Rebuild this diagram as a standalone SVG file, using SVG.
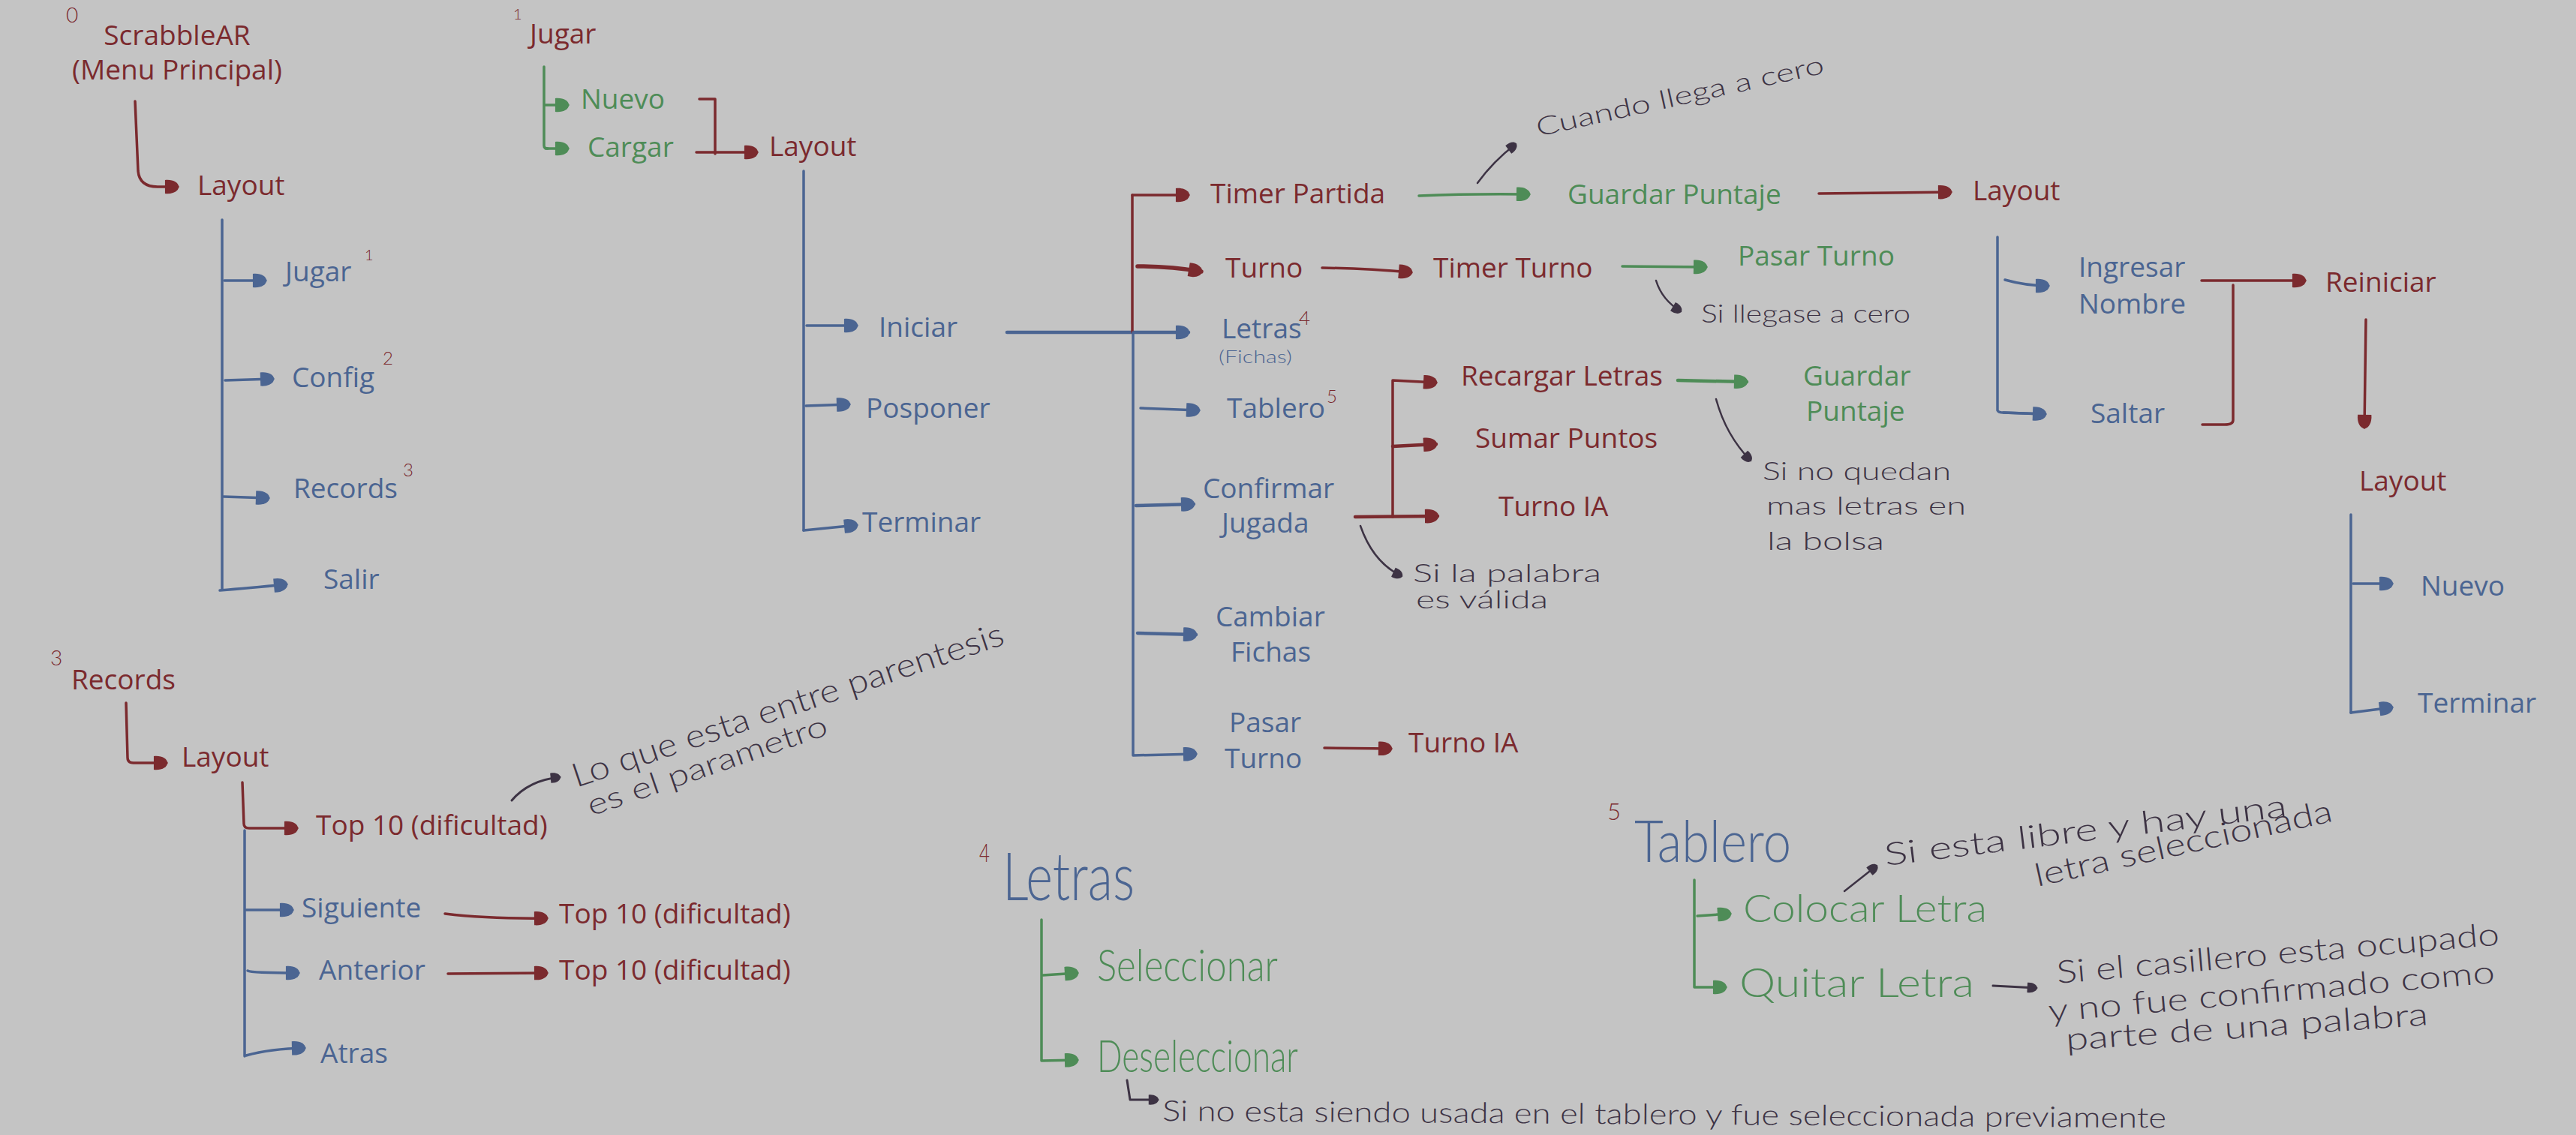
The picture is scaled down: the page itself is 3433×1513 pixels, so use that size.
<svg xmlns="http://www.w3.org/2000/svg" width="3433" height="1513" viewBox="0 0 3433 1513">
<style>
.t{font-family:"Open Sans","Noto Sans","Liberation Sans",sans-serif;font-size:37px}
.h{font-family:Lato,"Open Sans","Liberation Sans",sans-serif;font-weight:300}
.r{fill:#7b2a2e}.b{fill:#4b6592}.g{fill:#4e8c57}.d{fill:#3d3344}
.lr{fill:none;stroke:#7b2a2e;stroke-width:3.5;stroke-linecap:round;stroke-linejoin:round}
.lb{fill:none;stroke:#4b6592;stroke-width:3.5;stroke-linecap:round;stroke-linejoin:round}
.lg{fill:none;stroke:#4e8c57;stroke-width:3.5;stroke-linecap:round;stroke-linejoin:round}
.ld{fill:none;stroke:#3d3344;stroke-width:2.5;stroke-linecap:round;stroke-linejoin:round}
.mr{marker-end:url(#ar)}.mb{marker-end:url(#ab)}.mg{marker-end:url(#ag)}.md{marker-end:url(#ad)}
</style>
<defs>
<marker id="ar" viewBox="0 0 22 22" refX="20" refY="11" markerWidth="25" markerHeight="25" markerUnits="userSpaceOnUse" orient="auto"><path d="M5,3 C14,2 21,6 21,11 C21,16 14,20 5,19 Z" fill="#7b2a2e"/></marker>
<marker id="ab" viewBox="0 0 22 22" refX="20" refY="11" markerWidth="25" markerHeight="25" markerUnits="userSpaceOnUse" orient="auto"><path d="M5,3 C14,2 21,6 21,11 C21,16 14,20 5,19 Z" fill="#4b6592"/></marker>
<marker id="ag" viewBox="0 0 22 22" refX="20" refY="11" markerWidth="25" markerHeight="25" markerUnits="userSpaceOnUse" orient="auto"><path d="M5,3 C14,2 21,6 21,11 C21,16 14,20 5,19 Z" fill="#4e8c57"/></marker>
<marker id="ad" viewBox="0 0 22 22" refX="20" refY="11" markerWidth="18" markerHeight="18" markerUnits="userSpaceOnUse" orient="auto"><path d="M5,3 C14,2 21,6 21,11 C21,16 14,20 5,19 Z" fill="#3d3344"/></marker>
</defs>
<rect width="3433" height="1513" fill="#c4c4c4"/>

<g id="connectors">
<path class="lr mr" d="M180,135 L184,228 Q186,249 210,249 L237,249"/>
<path class="lb" d="M296,293 L296,786"/>
<path class="lb mb" d="M299,374 L354,374"/>
<path class="lb mb" d="M300,507 L364,505"/>
<path class="lb mb" d="M298,662 L358,664"/>
<path class="lb mb" d="M293,787 Q330,784 382,779"/>
<path class="lg" d="M725,89 L725,194 Q725,198 730,198"/>
<path class="lg mg" d="M727,140 L757,140"/>
<path class="lg mg" d="M727,198 L757,198"/>
<path class="lr" d="M932,132 L953,132 L953,205"/>
<path class="lr mr" d="M928,203 L1009,203"/>
<path class="lb" d="M1071,228 L1071,707"/>
<path class="lb mb" d="M1075,434 L1142,434"/>
<path class="lb mb" d="M1074,541 L1132,539"/>
<path class="lb mb" d="M1071,707 L1142,700"/>
<path class="lb mb" d="M1342,443 L1584,443" style="stroke-width:4.5"/>
<path class="lr" d="M1509,260 L1509,443"/>
<path class="lb mb" d="M1510,443 L1510,1007 L1594,1005"/>
<path class="lr mr" d="M1509,260 L1584,260"/>
<path class="lr mr" d="M1516,355 Q1560,355 1601,362" style="stroke-width:5.5"/>
<path class="lb mb" d="M1520,544 L1598,547"/>
<path class="lb mb" d="M1514,674 L1591,672" style="stroke-width:4.5"/>
<path class="lb mb" d="M1516,844 L1594,846" style="stroke-width:4.5"/>
<path class="lr mr" d="M1765,997 L1854,998"/>
<path class="lr mr" d="M1762,357 Q1820,358 1881,363"/>
<path class="lg mg" d="M2162,355 L2274,356"/>
<path class="lg mg" d="M1891,261 Q1960,258 2038,259"/>
<path class="lr mr" d="M2424,258 L2600,256"/>
<path class="lb" d="M2662,316 L2662,547 Q2663,550 2670,550 L2724,552"/>
<path class="lb mb" d="M2670,550 L2726,552"/>
<path class="lb mb" d="M2672,373 Q2700,381 2730,381"/>
<path class="lr mr" d="M2934,374 L3072,374"/>
<path class="lr" d="M2976,380 L2976,560 Q2976,566 2965,566 L2935,566"/>
<path class="lr mr" d="M3153,426 L3151,570"/>
<path class="lb" d="M3133,686 L3133,950"/>
<path class="lb mb" d="M3136,778 L3188,778"/>
<path class="lb mb" d="M3133,950 L3188,943"/>
<path class="lr mr" d="M1806,689 L1916,688" style="stroke-width:4.5"/>
<path class="lr mr" d="M1856,689 L1856,507 L1914,510"/>
<path class="lr mr" d="M1856,595 L1914,592" style="stroke-width:4.5"/>
<path class="lg mg" d="M2236,507 L2328,509" style="stroke-width:4.5"/>
<path class="lr mr" d="M168,937 L170,1010 Q170,1017 178,1017 L222,1017"/>
<path class="lr mr" d="M323,1043 L325,1098 Q325,1104 332,1104 L396,1104"/>
<path class="lb" d="M326,1107 L326,1408"/>
<path class="lb mb" d="M328,1213 L390,1213"/>
<path class="lr mr" d="M593,1218 Q650,1225 729,1224"/>
<path class="lb mb" d="M330,1294 Q335,1297 398,1297"/>
<path class="lr mr" d="M597,1298 L729,1297"/>
<path class="lb mb" d="M328,1407 Q360,1398 406,1397"/>
<path class="lg mg" d="M1388,1226 L1388,1414 L1436,1413"/>
<path class="lg mg" d="M1390,1300 L1436,1297"/>
<path class="lg mg" d="M2258,1173 L2258,1316 L2300,1316"/>
<path class="lg mg" d="M2262,1221 L2306,1218"/>
<path class="ld md" d="M1969,244 Q1990,215 2020,192"/>
<path class="ld md" d="M2207,374 Q2215,400 2240,415"/>
<path class="ld md" d="M2287,532 Q2300,580 2333,614"/>
<path class="ld md" d="M1813,701 Q1830,750 1868,768"/>
<path class="ld md" d="M682,1067 Q705,1040 746,1036" style="stroke-width:3"/>
<path class="ld md" d="M1502,1440 L1506,1466 L1543,1466" style="stroke-width:3"/>
<path class="ld md" d="M2458,1188 L2501,1154"/>
<path class="ld md" d="M2656,1314 L2714,1317" style="stroke-width:3"/>
</g>

<g id="n0"><text class="h r" x="88" y="30" font-size="28">0</text>
<text class="t r" x="236" y="60" text-anchor="middle">ScrabbleAR</text>
<text class="t r" x="236" y="106" text-anchor="middle">(Menu Principal)</text></g>
<g id="n0-layout"><text class="t r" x="263" y="260">Layout</text></g>
<g id="n0-jugar"><text class="t b" x="380" y="375">Jugar</text><text class="h r" x="486" y="347" font-size="20">1</text></g>
<g id="n0-config"><text class="t b" x="389" y="516">Config</text><text class="h r" x="510" y="486" font-size="24">2</text></g>
<g id="n0-records"><text class="t b" x="391" y="664">Records</text><text class="h r" x="537" y="635" font-size="24">3</text></g>
<g id="n0-salir"><text class="t b" x="431" y="785">Salir</text></g>

<g id="n1"><text class="h r" x="684" y="26" font-size="20">1</text><text class="t r" x="706" y="58">Jugar</text></g>
<g id="n1-nuevo"><text class="t g" x="774" y="145">Nuevo</text></g>
<g id="n1-cargar"><text class="t g" x="783" y="209">Cargar</text></g>
<g id="n1-layout"><text class="t r" x="1025" y="208">Layout</text></g>
<g id="n1-iniciar"><text class="t b" x="1171" y="449">Iniciar</text></g>
<g id="n1-posponer"><text class="t b" x="1154" y="557">Posponer</text></g>
<g id="n1-terminar"><text class="t b" x="1149" y="709">Terminar</text></g>
<g id="n-timer-partida"><text class="t r" x="1613" y="271">Timer Partida</text></g>
<g id="n-turno"><text class="t r" x="1633" y="370">Turno</text></g>
<g id="n-letras"><text class="t b" x="1628" y="451">Letras</text><text class="h r" x="1731" y="433" font-size="26">4</text>
<text class="h b" x="1624" y="484" font-size="24" textLength="98" lengthAdjust="spacingAndGlyphs">(Fichas)</text></g>
<g id="n-tablero"><text class="t b" x="1635" y="557">Tablero</text><text class="h r" x="1768" y="537" font-size="24" font-weight="bold">5</text></g>
<g id="n-confirmar"><text class="t b" x="1603" y="664">Confirmar</text><text class="t b" x="1628" y="710">Jugada</text></g>
<g id="n-cambiar"><text class="t b" x="1620" y="835">Cambiar</text><text class="t b" x="1640" y="882">Fichas</text></g>
<g id="n-pasar"><text class="t b" x="1638" y="976">Pasar</text><text class="t b" x="1632" y="1024">Turno</text></g>
<g id="n-turnoia2"><text class="t r" x="1877" y="1003">Turno IA</text></g>
<g id="n-timer-turno"><text class="t r" x="1910" y="370">Timer Turno</text></g>
<g id="n-pasar-turno"><text class="t g" x="2316" y="354">Pasar Turno</text></g>
<g id="n-guardar1"><text class="t g" x="2089" y="272">Guardar Puntaje</text></g>
<g id="n-layout2"><text class="t r" x="2629" y="267">Layout</text></g>
<g id="n-ingresar"><text class="t b" x="2770" y="369">Ingresar</text><text class="t b" x="2770" y="418">Nombre</text></g>
<g id="n-saltar"><text class="t b" x="2786" y="564">Saltar</text></g>
<g id="n-reiniciar"><text class="t r" x="3099" y="389">Reiniciar</text></g>
<g id="n-layout3"><text class="t r" x="3144" y="654">Layout</text></g>
<g id="n-nuevo3"><text class="t b" x="3226" y="794">Nuevo</text></g>
<g id="n-terminar3"><text class="t b" x="3222" y="950">Terminar</text></g>
<g id="n-recargar"><text class="t r" x="1947" y="514">Recargar Letras</text></g>
<g id="n-sumar"><text class="t r" x="1966" y="597">Sumar Puntos</text></g>
<g id="n-turnoia1"><text class="t r" x="1997" y="688">Turno IA</text></g>
<g id="n-guardar2"><text class="t g" x="2403" y="514">Guardar</text><text class="t g" x="2407" y="561">Puntaje</text></g>

<g id="n3"><text class="h r" x="67" y="887" font-size="28">3</text><text class="t r" x="95" y="919">Records</text></g>
<g id="n3-layout"><text class="t r" x="242" y="1022">Layout</text></g>
<g id="n3-top"><text class="t r" x="421" y="1113">Top 10 (dificultad)</text></g>
<g id="n3-sig"><text class="t b" x="402" y="1223">Siguiente</text></g>
<g id="n3-top2"><text class="t r" x="745" y="1231">Top 10 (dificultad)</text></g>
<g id="n3-ant"><text class="t b" x="425" y="1306">Anterior</text></g>
<g id="n3-top3"><text class="t r" x="745" y="1306">Top 10 (dificultad)</text></g>
<g id="n3-atras"><text class="t b" x="427" y="1417">Atras</text></g>

<g id="n4"><text class="h r" x="1305" y="1149" font-size="34" textLength="14" lengthAdjust="spacingAndGlyphs">4</text>
<text class="h b" x="1336" y="1200" font-size="88" textLength="176" lengthAdjust="spacingAndGlyphs">Letras</text></g>
<g id="n4-sel"><text class="h g" x="1462" y="1308" font-size="60" textLength="241" lengthAdjust="spacingAndGlyphs">Seleccionar</text></g>
<g id="n4-desel"><text class="h g" x="1462" y="1429" font-size="60" textLength="268" lengthAdjust="spacingAndGlyphs">Deseleccionar</text></g>

<g id="n5"><text class="h r" x="2142" y="1093" font-size="32" textLength="18" lengthAdjust="spacingAndGlyphs">5</text>
<text class="h b" x="2178" y="1149" font-size="76" textLength="209" lengthAdjust="spacingAndGlyphs">Tablero</text></g>
<g id="n5-colocar"><text class="h g" x="2323" y="1229" font-size="52" textLength="325" lengthAdjust="spacingAndGlyphs">Colocar Letra</text></g>
<g id="n5-quitar"><text class="h g" x="2318" y="1329" font-size="54" textLength="313" lengthAdjust="spacingAndGlyphs">Quitar Letra</text></g>

<g id="notes" class="h d">
<text x="2050" y="182" font-size="34" textLength="392" lengthAdjust="spacingAndGlyphs" transform="rotate(-12.5 2050 182)">Cuando llega a cero</text>
<text x="2267" y="430" font-size="34" textLength="279" lengthAdjust="spacingAndGlyphs">Si llegase a cero</text>
<text x="2349" y="640" font-size="34" textLength="251" lengthAdjust="spacingAndGlyphs">Si no quedan</text>
<text x="2354" y="686" font-size="34" textLength="266" lengthAdjust="spacingAndGlyphs">mas letras en</text>
<text x="2355" y="733" font-size="34" textLength="156" lengthAdjust="spacingAndGlyphs">la bolsa</text>
<text x="1883" y="776" font-size="34" textLength="251" lengthAdjust="spacingAndGlyphs">Si la palabra</text>
<text x="1887" y="811" font-size="34" textLength="176" lengthAdjust="spacingAndGlyphs">es válida</text>
<text x="768" y="1050" font-size="44" textLength="604" lengthAdjust="spacingAndGlyphs" transform="rotate(-18.5 768 1050)">Lo que esta entre parentesis</text>
<text x="788" y="1088" font-size="40" textLength="336" lengthAdjust="spacingAndGlyphs" transform="rotate(-19 788 1088)">es el parametro</text>
<text x="1549" y="1494" font-size="38" textLength="1338" lengthAdjust="spacingAndGlyphs" transform="rotate(0.4 1549 1494)">Si no esta siendo usada en el tablero  y fue seleccionada previamente</text>
<text x="2513" y="1154" font-size="42" textLength="540" lengthAdjust="spacingAndGlyphs" transform="rotate(-7 2513 1154)">Si esta libre y hay una</text>
<text x="2715" y="1182" font-size="42" textLength="405" lengthAdjust="spacingAndGlyphs" transform="rotate(-12.5 2715 1182)">letra seleccionada</text>
<text x="2742" y="1311" font-size="42" textLength="592" lengthAdjust="spacingAndGlyphs" transform="rotate(-5 2742 1311)">Si el casillero esta ocupado</text>
<text x="2731" y="1362" font-size="42" textLength="597" lengthAdjust="spacingAndGlyphs" transform="rotate(-5 2731 1362)">y no fue confirmado como</text>
<text x="2754" y="1400" font-size="42" textLength="484" lengthAdjust="spacingAndGlyphs" transform="rotate(-4 2754 1400)">parte de una palabra</text>
</g>
</svg>
